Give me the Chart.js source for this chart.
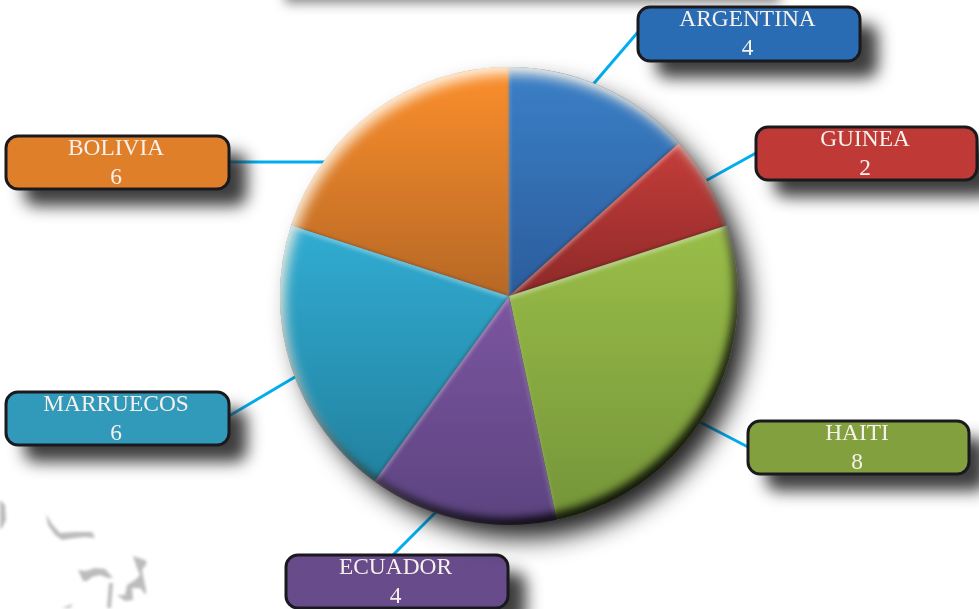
<!DOCTYPE html>
<html><head><meta charset="utf-8">
<style>html,body{margin:0;padding:0;background:#fff;overflow:hidden}canvas{display:block}</style>
<script src="https://cdn.jsdelivr.net/npm/chart.js@4/dist/chart.umd.min.js"></script>
</head><body><canvas id="c" width="979" height="609"></canvas>
<script>
const categories = ['ARGENTINA','GUINEA','HAITI','ECUADOR','MARRUECOS','BOLIVIA'];
const values = [4,2,8,4,6,6];
const sliceTop = ['#3b80c7','#e24743','#aed451','#9c66c0','#3ac7f2','#fc8f2c'];
const sliceBottom = ['#1b3971','#370c0e','#749439','#5c4480','#1f7a96','#70401e'];
const boxColors = ['#2a6cb3','#bf3a36','#82a03d','#674b8a','#3199b9','#e07f2a'];
// label box placement: [left, top, width, height]
const boxes = [[638,7,222,54],[756,127,221,53],[748,421,221,53],[286,555,222,53],[6,392,223,53],[6,136,223,53]];
// leader lines: [box end x, y, pie end x, y]
const leaders = [[638,32,590,88],[756,153,700,184],[748,447,696,420],[393,555,436,512],[229,416,300,374],[229,162,330,162]];
// relief shapes in the lower left corner
const relief = [
  [[46,514],[52,524],[60,533],[75,532],[92,532],[95,538],[85,537],[75,538],[62,540],[55,535],[48,525]],
  [[78,570],[86,571],[95,568],[105,569],[113,578],[108,578],[100,575],[92,577],[87,581],[83,581]],
  [[109,583],[113,583],[111,608],[107,608]],
  [[133,556],[145,560],[147,563],[142,570],[146,590],[146,595],[140,588],[132,588],[133,600],[125,601],[117,595],[125,595],[127,585],[135,580],[140,575],[137,568]],
  [[0,500],[5,505],[6,520],[2,528],[0,529]],
  [[62,608],[73,604],[70,608]]
];

function roundBox(ctx,b,r){ctx.beginPath();ctx.roundRect(b[0],b[1],b[2],b[3],r);}
function slicePath(a,p){
  p.moveTo(a.x,a.y);p.arc(a.x,a.y,a.outerRadius,a.startAngle,a.endAngle);p.closePath();
}
function circlePath(a,p){p.moveTo(a.x+a.outerRadius,a.y);p.arc(a.x,a.y,a.outerRadius,0,Math.PI*2);p.closePath();}
function innerShadow(ctx,build,a,color,blur,ox,oy){
  ctx.save();
  const clip=new Path2D();build(a,clip);ctx.clip(clip);
  const ring=new Path2D();ring.rect(-2000,-2000,5000,5000);build(a,ring);
  ctx.shadowColor=color;ctx.shadowBlur=blur;
  ctx.shadowOffsetX=ox+6000;ctx.shadowOffsetY=oy;
  ctx.translate(-6000,0);
  ctx.fillStyle='#000';ctx.fill(ring,'evenodd');
  ctx.restore();
}
const decor={id:'decor',
  beforeDatasetsDraw(chart){
    const ctx=chart.ctx;
    // partly hidden box shadow along the top edge
    ctx.save();ctx.shadowColor='rgba(50,50,50,.6)';ctx.shadowBlur=12;ctx.shadowOffsetX=0;ctx.shadowOffsetY=3;
    ctx.fillStyle='#fff';ctx.fillRect(285,-30,495,30);ctx.restore();
    // faint relief
    ctx.save();ctx.fillStyle='#bcbcbc';ctx.filter='blur(1.6px)';
    relief.forEach(s=>{ctx.beginPath();s.forEach((p,i)=>i?ctx.lineTo(p[0],p[1]):ctx.moveTo(p[0],p[1]));ctx.closePath();ctx.fill();});
    ctx.restore();
    // leaders
    ctx.save();ctx.strokeStyle='#00aeef';ctx.lineWidth=3;
    leaders.forEach(l=>{ctx.beginPath();ctx.moveTo(l[0],l[1]);ctx.lineTo(l[2],l[3]);ctx.stroke();});
    ctx.restore();
    // boxes
    boxes.forEach((b,i)=>{
      ctx.save();ctx.shadowColor='rgba(45,45,45,.92)';ctx.shadowBlur=16;ctx.shadowOffsetX=18;ctx.shadowOffsetY=17;
      ctx.fillStyle='#333';roundBox(ctx,b,12);ctx.fill();ctx.restore();
      ctx.save();ctx.fillStyle=boxColors[i];ctx.strokeStyle='#1a1a1e';ctx.lineWidth=3;roundBox(ctx,b,12);ctx.fill();ctx.stroke();
      ctx.fillStyle='#f6f1ec';ctx.font='23.4px "Liberation Serif"';ctx.textAlign='center';ctx.textBaseline='alphabetic';
      const cx=b[0]+b[2]/2-1.5;
      ctx.fillText(categories[i],cx,b[1]+19);
      ctx.fillText(String(values[i]),cx,b[1]+48);
      ctx.restore();
    });
    // pie shadow
    const a0=chart.getDatasetMeta(0).data[0];
    ctx.save();ctx.shadowColor='rgba(20,20,20,.95)';ctx.shadowBlur=24;ctx.shadowOffsetX=13;ctx.shadowOffsetY=15;
    ctx.fillStyle='#333';ctx.beginPath();ctx.arc(a0.x,a0.y,a0.outerRadius-2,0,Math.PI*2);ctx.fill();ctx.restore();
  },
  afterDatasetsDraw(chart){
    const ctx=chart.ctx;
    const arcs=chart.getDatasetMeta(0).data;
    arcs.forEach(a=>{
      innerShadow(ctx,slicePath,a,'rgba(255,255,255,.4)',4,0,3);
      innerShadow(ctx,slicePath,a,'rgba(0,0,0,.25)',3,-1,-1);
    });
    innerShadow(ctx,circlePath,arcs[0],'rgba(0,0,0,.85)',9,-4,-7);
    innerShadow(ctx,circlePath,arcs[0],'rgba(255,245,230,.8)',12,5,8);
  }
};
new Chart(document.getElementById('c'),{
  type:'pie',
  data:{labels:categories,datasets:[{data:values,borderWidth:0,
    backgroundColor(ctx){
      const ca=ctx.chart.chartArea;
      if(!ca)return sliceTop[ctx.dataIndex];
      const g=ctx.chart.ctx.createLinearGradient(0,ca.top,0,ca.bottom);
      g.addColorStop(0,sliceTop[ctx.dataIndex]);g.addColorStop(1,sliceBottom[ctx.dataIndex]);
      return g;
    }}]},
  options:{responsive:false,animation:false,
    layout:{padding:{left:280,right:241,top:67,bottom:84}},
    plugins:{legend:{display:false},tooltip:{enabled:false},title:{display:false}}},
  plugins:[decor]
});
</script></body></html>
